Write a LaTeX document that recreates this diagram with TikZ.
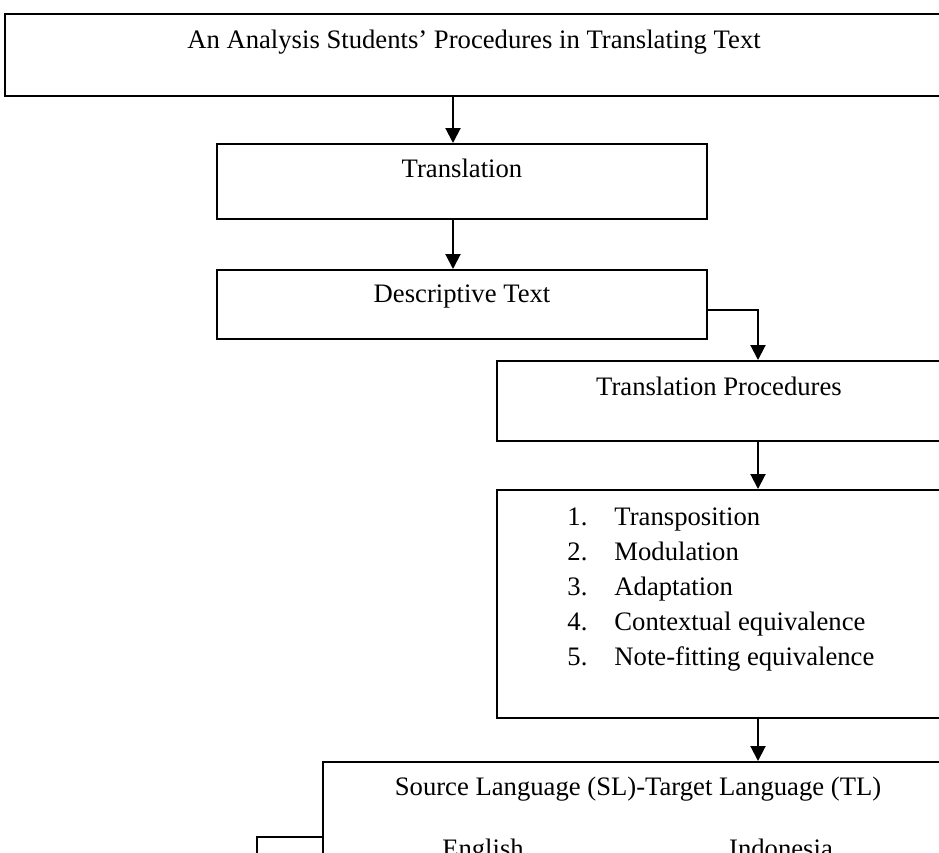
\documentclass[tikz,border=0pt]{standalone}
\usepackage{fontspec}
\setmainfont{Liberation Serif}
\usetikzlibrary{arrows.meta}
\usetikzlibrary{positioning}
\newlength\unitpx
\setlength\unitpx{0.45pt}
\begin{document}
\begin{tikzpicture}[x=0.45pt,y=-0.45pt,
  box/.style={draw,line width=0.7pt,inner sep=0pt,anchor=north,
    font=\fontsize{12pt}{14pt}\selectfont},
  word/.style={inner sep=0pt,font=\fontsize{12pt}{14pt}\selectfont},
  link/.style={line width=0.9pt},
  arrow/.style={link,-{Triangle[width=6.75pt,length=6.75pt]}}]
  \useasboundingbox (0,0) rectangle (939,852);
  \clip (0,0) rectangle (939,852);
  \node[box,minimum width=938\unitpx,text height=35\unitpx,text depth=47\unitpx] (title) at (474,13)
    {An Analysis Students’ Procedures in Translating Text};
  \node[box,minimum width=490\unitpx,text height=34\unitpx,text depth=41\unitpx] (trans) at (462,143) {Translation};
  \node[box,minimum width=490\unitpx,text height=33\unitpx,text depth=36\unitpx] (desc) at (462,269) {Descriptive Text};
  \node[box,minimum width=444\unitpx,text height=35\unitpx,text depth=45\unitpx] (proc) at (719,360) {Translation Procedures};
  \node[box,minimum width=444\unitpx,minimum height=228\unitpx] (list) at (719,489) {};
  \foreach \i/\item in {1/Transposition,2/Modulation,3/Adaptation,4/Contextual equivalence,5/Note-fitting equivalence}
    \node[word,anchor=base west] (item\i) at (567,{525+35*(\i-1)}) {\makebox[47\unitpx][l]{\i.}\item};
  \node[box,minimum width=630\unitpx,text height=34\unitpx,text depth=150\unitpx] (slt) at (638,761)
    {Source Language (SL)-Target Language (TL)};
  \node[word,anchor=base] (sl) at (483,857) {English};
  \node[word,anchor=base] (tl) at (781,857) {Indonesia};
  \coordinate (spine) at (453,0);
  \coordinate (bend) at (758,310);
  \coordinate (drop) at (257,837);
  \coordinate (down) at (257,880);
  \draw[arrow] (title.south -| spine) -- (trans.north -| spine);
  \draw[arrow] (trans.south -| spine) -- (desc.north -| spine);
  \draw[arrow] (desc.east |- bend) -- (bend) -- (proc.north -| bend);
  \draw[arrow] (proc.south -| bend) -- (list.north -| bend);
  \draw[arrow] (list.south -| bend) -- (slt.north -| bend);
  \draw[link] (slt.west |- drop) -- (drop) -- (down);
\end{tikzpicture}
\end{document}
